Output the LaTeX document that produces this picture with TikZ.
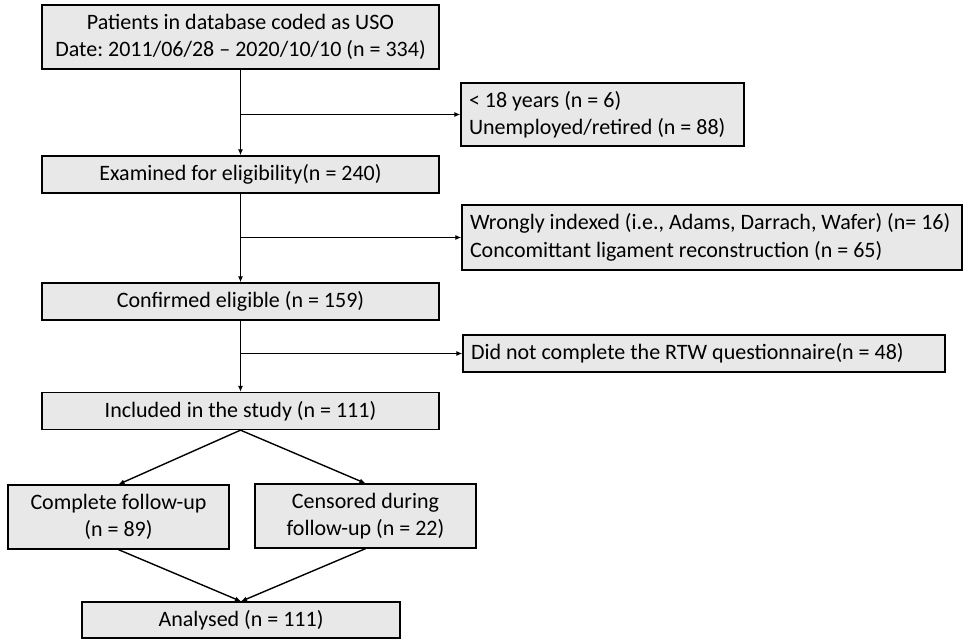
\documentclass[tikz,border=0pt]{standalone}
\usepackage{fontspec}
\setmainfont{Carlito}
\usetikzlibrary{arrows.meta}
\definecolor{boxfill}{RGB}{232,232,232}
\tikzset{
  x=1pt,y=1pt,
  box/.style={draw=black, fill=boxfill, line width=1.3pt, rectangle, inner sep=0pt,
    font=\fontsize{22}{27.5}\selectfont\frenchspacing, align=center},
  lbox/.style={box, align=flush left, inner xsep=8pt},
  conn/.style={line width=1.4pt, -{Latex[length=6pt,width=5pt]}}
}
\begin{document}
\begin{tikzpicture}
\useasboundingbox (0,0) rectangle (976,-639);
\node[box, minimum width=397, minimum height=64] (b1) at (240.5,-37) {Patients in database coded as USO\\Date: 2011/06/28 -- 2020/10/10 (n = 334)};
\node[lbox, text width=267, minimum height=63] (e1) at (602.5,-114.5) {< 18 years (n = 6)\\Unemployed/retired (n = 88)};
\node[box, minimum width=397, minimum height=37] (b2) at (240.5,-174.5) {Examined for eligibility(n = 240)};
\node[lbox, text width=484, minimum height=65] (e2) at (712,-237.5) {Wrongly indexed (i.e., Adams, Darrach, Wafer) (n= 16)\\Concomittant ligament reconstruction (n = 65)};
\node[box, minimum width=397, minimum height=37] (b3) at (240.5,-301.5) {Confirmed eligible (n = 159)};
\node[lbox, text width=466, minimum height=37] (e3) at (704,-353.5) {Did not complete the RTW questionnaire(n = 48)};
\node[box, minimum width=397, minimum height=37] (b4) at (240.5,-411) {Included in the study (n = 111)};
\node[box, minimum width=221, minimum height=64] (b5) at (118.5,-517) {Complete follow-up\\(n = 89)};
\node[box, minimum width=221, minimum height=64] (b6) at (365.5,-516) {Censored during\\follow-up (n = 22)};
\node[box, minimum width=318, minimum height=36] (b7) at (241,-620) {Analysed (n = 111)};

\coordinate (j1) at (b1.south |- e1.west);
\coordinate (j2) at (b2.south |- e2.west);
\coordinate (j3) at (b3.south |- e3.west);
\draw[conn] (b1.south) -- (b2.north);
\draw[conn] (j1) -- (e1.west);
\draw[conn] (b2.south) -- (b3.north);
\draw[conn] (j2) -- (e2.west);
\draw[conn] (b3.south) -- (b4.north);
\draw[conn] (j3) -- (e3.west);
\draw[conn] (b4.south) -- (b5.north);
\draw[conn] (b4.south) -- (b6.north);
\draw[conn] (b5.south) -- (b7.north);
\draw[conn] (b6.south) -- (b7.north);
\end{tikzpicture}
\end{document}
